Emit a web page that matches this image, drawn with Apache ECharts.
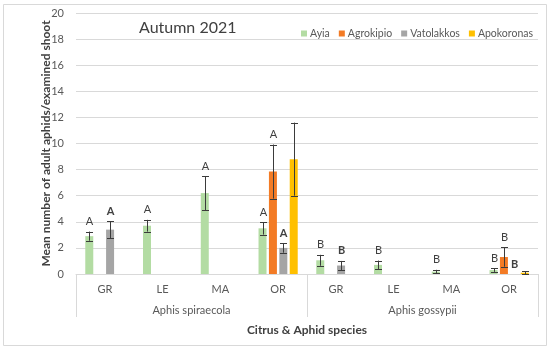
<!DOCTYPE html>
<html>
<head>
<meta charset="utf-8">
<script src="https://cdn.jsdelivr.net/npm/echarts@6/dist/echarts.min.js"></script>
<style>html,body{margin:0;padding:0;background:#fff}#c{width:550px;height:350px}</style>
</head>
<body>
<div id="c"></div>
<script>
const citrus = ['GR', 'LE', 'MA', 'OR', 'GR', 'LE', 'MA', 'OR'];
const species = ['Aphis spiraecola', 'Aphis gossypii'];
const seriesNames = ['Ayia', 'Agrokipio', 'Vatolakkos', 'Apokoronas'];
const yTicks = { min: 0, max: 20, interval: 2 };

const ayia = [2.9, 3.7, 6.2, 3.5, 1.05, 0.7, 0.18, 0.3];
const ayiaErr = [0.35, 0.45, 1.3, 0.48, 0.42, 0.33, 0.14, 0.14];
const ayiaLetters = ['A', 'A', 'A', 'A', 'B', 'B', 'B', 'B'];

const agrokipio = [null, null, null, 7.85, null, null, null, 1.3];
const agrokipioErr = [null, null, null, 2.07, null, null, null, 0.74];
const agrokipioLetters = [null, null, null, 'A', null, null, null, 'B'];

const vatolakkos = [3.4, null, null, 2.0, 0.65, null, null, 0];
const vatolakkosErr = [0.65, null, null, 0.37, 0.35, null, null, 0];
const vatolakkosLetters = ['A', null, null, 'A', 'B', null, null, 'B'];

const apokoronas = [null, null, null, 8.8, null, null, null, 0.1];
const apokoronasErr = [null, null, null, 2.8, null, null, null, 0.12];
const apokoronasLetters = [null, null, null, null, null, null, null, null];

const colors = ['#B3DCA3', '#F37B25', '#A5A5A5', '#FFC000'];
const FONT = 'Lato, "Open Sans", sans-serif';
const BAR_W = 8, BAR_GAP = 0.3;
const pitch = BAR_W * (1 + BAR_GAP);

const values = [ayia, agrokipio, vatolakkos, apokoronas];
const errs = [ayiaErr, agrokipioErr, vatolakkosErr, apokoronasErr];
const letters = [ayiaLetters, agrokipioLetters, vatolakkosLetters, apokoronasLetters];
const boldLetters = [false, false, true, false];

const chart = echarts.init(document.getElementById('c'), null, { renderer: 'canvas' });

const barSeries = seriesNames.map((n, k) => ({
  name: n, type: 'bar', xAxisIndex: 0, yAxisIndex: 0,
  data: values[k], barWidth: BAR_W, barGap: (BAR_GAP * 100) + '%',
  itemStyle: { color: colors[k] }, silent: true, z: 2
}));

const errSeries = seriesNames.map((n, k) => ({
  type: 'custom', xAxisIndex: 0, yAxisIndex: 0, z: 5, silent: true,
  data: citrus.map((c, i) => [i, values[k][i] == null ? 0 : values[k][i]]),
  renderItem: function (params, api) {
    const i = params.dataIndex;
    const v = values[k][i];
    if (v == null) return null;
    const e = errs[k][i] || 0;
    const base = api.coord([i, v]);
    const x = Math.round(base[0] + (k - 1.5) * pitch) + 0.5;
    const yTop = api.coord([i, v + e])[1];
    const yBot = api.coord([i, Math.max(0, v - e)])[1];
    const children = [];
    if (e > 0) {
      const st = { stroke: '#3b3b3b', lineWidth: 1 };
      children.push({ type: 'line', shape: { x1: x, y1: yTop, x2: x, y2: yBot }, style: st });
      children.push({ type: 'line', shape: { x1: x - 3.5, y1: Math.round(yTop) + 0.5, x2: x + 3.5, y2: Math.round(yTop) + 0.5 }, style: st });
      children.push({ type: 'line', shape: { x1: x - 3.5, y1: Math.round(yBot) + 0.5, x2: x + 3.5, y2: Math.round(yBot) + 0.5 }, style: st });
    }
    const L = letters[k][i];
    if (L) {
      children.push({
        type: 'text',
        style: {
          text: L, x: x, y: yTop - 10, align: 'center', verticalAlign: 'middle',
          fill: '#404040', fontSize: 11, fontFamily: FONT,
          fontWeight: boldLetters[k] ? 'bold' : 'normal'
        }
      });
    }
    return { type: 'group', children: children };
  }
}));

chart.setOption({
  animation: false,
  backgroundColor: '#fff',
  title: {
    text: 'Autumn 2021', left: 134, top: 15,
    textStyle: { fontSize: 16, fontWeight: 'normal', color: '#404040', fontFamily: FONT }
  },
  legend: {
    data: seriesNames, right: 12, top: 23, icon: 'rect', itemWidth: 6, itemHeight: 6, itemGap: 9,
    textStyle: { fontSize: 10.5, color: '#595959', fontFamily: FONT, padding: [0, 0, 0, -2] }
  },
  grid: { left: 76, right: 12, top: 13, bottom: 76, containLabel: false },
  xAxis: [
    {
      type: 'category', data: citrus, position: 'bottom',
      axisLine: { show: true, lineStyle: { color: '#d9d9d9' } },
      axisTick: { show: false },
      axisLabel: { color: '#595959', fontSize: 11, fontFamily: FONT, margin: 10 },
      splitLine: { show: false }
    },
    {
      type: 'category', data: species, position: 'bottom',
      axisLine: { show: false },
      axisTick: { show: true, length: 43, lineStyle: { color: '#d9d9d9' } },
      axisLabel: { color: '#595959', fontSize: 11, fontFamily: FONT, margin: 31 },
      name: 'Citrus & Aphid species', nameLocation: 'middle', nameGap: 50, nameMoveOverlap: false,
      nameTextStyle: { fontSize: 12, fontWeight: 'bold', color: '#404040', fontFamily: FONT }
    }
  ],
  yAxis: {
    type: 'value', min: yTicks.min, max: yTicks.max, interval: yTicks.interval,
    axisLine: { show: false }, axisTick: { show: false },
    splitLine: { lineStyle: { color: '#d9d9d9' } },
    axisLabel: { color: '#595959', fontSize: 11, fontFamily: FONT, margin: 12 },
    name: 'Mean number of adult aphids/examined shoot', nameLocation: 'middle', nameGap: 24, nameMoveOverlap: false,
    nameTextStyle: { fontSize: 12, fontWeight: 'bold', color: '#404040', fontFamily: FONT }
  },
  graphic: [{
    type: 'rect', shape: { x: 3.5, y: 4.5, width: 543, height: 341 },
    style: { fill: 'none', stroke: '#d9d9d9', lineWidth: 1 }, silent: true, z: -1
  }],
  series: barSeries.concat(errSeries)
});
</script>
</body>
</html>
